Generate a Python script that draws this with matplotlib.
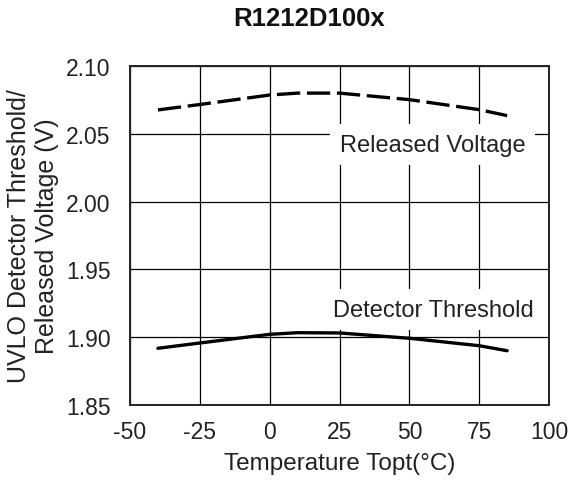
import matplotlib
matplotlib.use("Agg")
import matplotlib.pyplot as plt

plt.rcParams['font.family'] = ['Liberation Sans', 'DejaVu Sans']

# values
temp = [-40, -25, 0, 10, 25, 50, 75, 85]
released_v = [2.0676, 2.0716, 2.0786, 2.0800, 2.0800, 2.0752, 2.0678, 2.0634]
detector_v = [1.8918, 1.8957, 1.9021, 1.9033, 1.9031, 1.8992, 1.8937, 1.8900]

x_ticks = [-50, -25, 0, 25, 50, 75, 100]
y_ticks = [1.85, 1.90, 1.95, 2.00, 2.05, 2.10]

fig = plt.figure(figsize=(5.71, 4.81), dpi=100)
ax = fig.add_axes([0.2277, 0.156, 0.7338, 0.7047])

ax.grid(True, color='black', linewidth=0.9)
ax.set_axisbelow(True)

ax.plot(temp, released_v, color='black', linewidth=2.4, linestyle=(0, (7, 2)),
        dash_capstyle='butt', zorder=3)
ax.plot(temp, detector_v, color='black', linewidth=2.4, solid_capstyle='round', zorder=3)

box = dict(facecolor='white', edgecolor='none', pad=7)
ax.text(58.3, 2.0375, "Released Voltage", ha='center', va='baseline',
        fontsize=17, color='#222222', bbox=box, zorder=4)
ax.text(58.6, 1.9159, "Detector Threshold", ha='center', va='baseline',
        fontsize=17, color='#222222', bbox=box, zorder=4)

ax.set_xlim(-50, 100)
ax.set_ylim(1.85, 2.10)
ax.set_xticks(x_ticks)
ax.set_yticks(y_ticks)
ax.set_xticklabels([str(t) for t in x_ticks])
ax.set_yticklabels(["%.2f" % v for v in y_ticks])
ax.tick_params(length=0, labelsize=16.5, labelcolor='#222222')
ax.tick_params(axis='x', pad=11)
ax.tick_params(axis='y', pad=14)

for s in ax.spines.values():
    s.set_linewidth(1.4)
    s.set_color('#222222')

ax.set_xlabel("Temperature Topt(\u00b0C)", fontsize=17.5, color='#222222', labelpad=6)
ax.set_ylabel("UVLO Detector Threshold/\nReleased Voltage (V)", fontsize=18,
              color='#222222', linespacing=1.2, labelpad=5)

fig.text(0.541, 1 - 19.5 / 481, "R1212D100x", ha='center', va='center',
         fontsize=18.5, fontweight='bold', color='#111111')

fig.savefig("out.png", dpi=100, facecolor='white')
